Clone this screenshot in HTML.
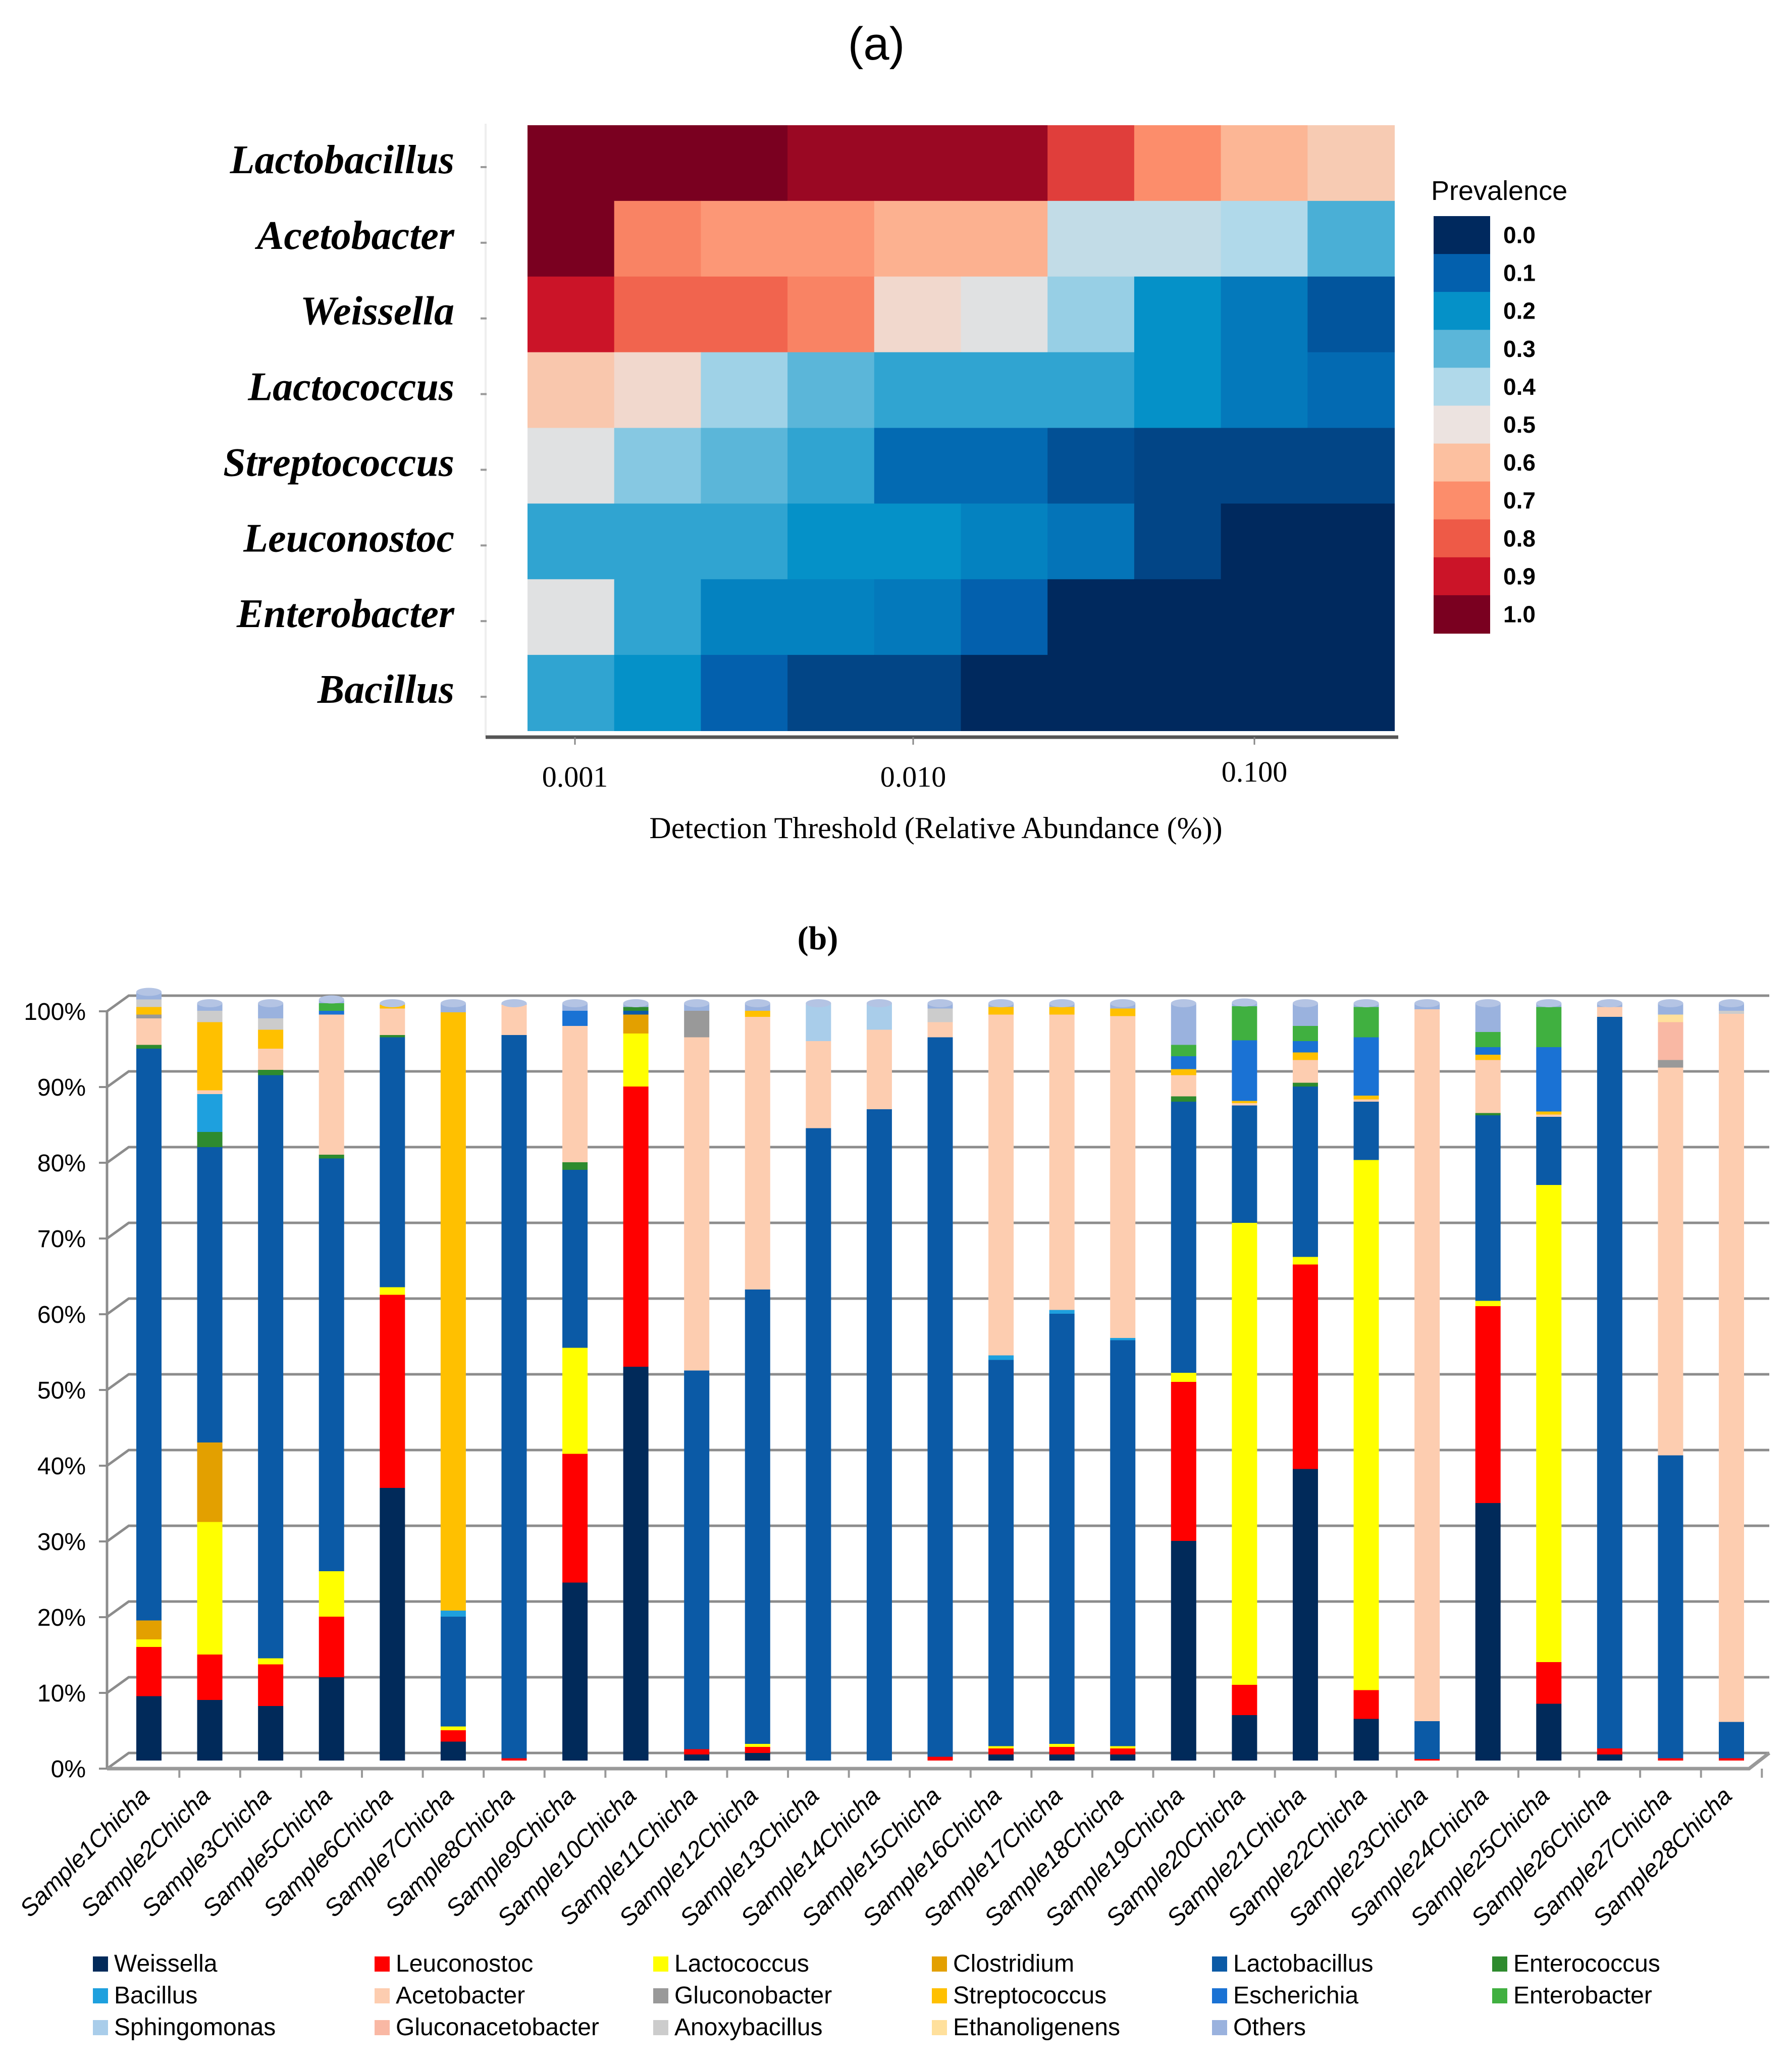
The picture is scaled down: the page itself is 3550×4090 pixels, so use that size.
<!DOCTYPE html>
<html><head><meta charset="utf-8"><style>
html,body{margin:0;padding:0;background:#fff;}
svg{display:block;}
</style></head><body>
<svg id="fig" width="3550" height="4090" viewBox="0 0 3550 4090" xmlns="http://www.w3.org/2000/svg">
<text x="1736" y="118" font-family="Liberation Sans, sans-serif" font-size="92" text-anchor="middle" fill="#000">(a)</text>
<g id="heat"></g>
<g id="bars"></g>
</svg>
<script>
// ===== Heatmap data =====
const genera = ["Lactobacillus","Acetobacter","Weissella","Lactococcus","Streptococcus","Leuconostoc","Enterobacter","Bacillus"];
const xTickLabels = ["0.001","0.010","0.100"];
const legendTicks = ["0.0","0.1","0.2","0.3","0.4","0.5","0.6","0.7","0.8","0.9","1.0"];
const prevLacto = [1,1,1,0.96,0.96,0.96,0.84,0.7,0.62,0.57];
const prevAceto = [1,0.72,0.68,0.68,0.63,0.63,0.43,0.43,0.40,0.28];
const prevWeiss = [0.9,0.78,0.78,0.72,0.53,0.48,0.37,0.2,0.15,0.08];
const prevLactoc = [0.58,0.53,0.38,0.3,0.25,0.25,0.25,0.2,0.15,0.12];
const prevStrep = [0.48,0.35,0.3,0.25,0.12,0.12,0.07,0.05,0.05,0.05];
const prevLeuco = [0.25,0.25,0.25,0.2,0.2,0.17,0.14,0.05,0,0];
const prevEntero = [0.48,0.25,0.17,0.17,0.15,0.1,0,0,0,0];
const prevBacil = [0.25,0.2,0.1,0.05,0.05,0,0,0,0,0];
const heatRows = [prevLacto,prevAceto,prevWeiss,prevLactoc,prevStrep,prevLeuco,prevEntero,prevBacil];

// ===== Bar chart data (percent, stacked bottom->top) =====
const samples = ["Sample1Chicha","Sample2Chicha","Sample3Chicha","Sample5Chicha","Sample6Chicha","Sample7Chicha","Sample8Chicha","Sample9Chicha","Sample10Chicha","Sample11Chicha","Sample12Chicha","Sample13Chicha","Sample14Chicha","Sample15Chicha","Sample16Chicha","Sample17Chicha","Sample18Chicha","Sample19Chicha","Sample20Chicha","Sample21Chicha","Sample22Chicha","Sample23Chicha","Sample24Chicha","Sample25Chicha","Sample26Chicha","Sample27Chicha","Sample28Chicha"];
const taxa = ["Weissella","Leuconostoc","Lactococcus","Clostridium","Lactobacillus","Enterococcus","Bacillus","Acetobacter","Gluconobacter","Streptococcus","Escherichia","Enterobacter","Sphingomonas","Gluconacetobacter","Anoxybacillus","Ethanoligenens","Others"];
const yTickLabels = ["0%","10%","20%","30%","40%","50%","60%","70%","80%","90%","100%"];
const weissella =     [8.5,8,7.2,11,36,2.5,0,23.5,52,0.8,1,0,0,0,0.8,0.8,0.8,29,6,38.5,5.5,0,34,7.5,0.8,0,0];
const leuconostoc =   [6.5,6,5.5,8,25.5,1.5,0.3,17,37,0.7,0.8,0,0,0.5,0.8,1,0.8,21,4,27,3.8,0.2,26,5.5,0.8,0.3,0.3];
const lactococcus =   [1,17.5,0.8,6,1,0.5,0,14,7,0,0.4,0,0,0,0.3,0.4,0.3,1.2,61,1,70,0,0.7,63,0,0,0];
const clostridium =   [2.5,10.5,0,0,0,0,0,0,2.5,0,0,0,0,0,0,0,0,0,0,0,0,0,0,0,0,0,0];
const lactobacillus = [75.5,39,77,54.5,33,14.5,95.5,23.5,0.5,50,60,83.5,86,95,51,56.8,53.6,35.8,15.5,22.5,7.7,5,24.5,9,96.6,40,4.8];
const enterococcus =  [0.5,2,0.7,0.5,0.3,0,0,1,0.5,0,0,0,0,0,0,0,0,0.7,0,0.5,0,0,0.3,0,0,0,0];
const bacillus =      [0,5,0,0,0,0.8,0,0,0,0,0,0,0,0,0.6,0.5,0.3,0,0,0,0,0,0,0,0,0,0];
const acetobacter =   [3.5,0.5,2.8,18.5,3.5,0,4,18,0,44,36,11.5,10.5,2,45,39,42.5,2.8,0.3,3,0.3,94,7,0.3,1.3,51.2,93.5];
const gluconobacter = [0.5,0,0,0,0,0,0,0,0,3.5,0,0,0,0,0,0,0,0,0,0,0,0,0,0,0,1,0];
const streptococcus = [1,9,2.5,0,0.5,79,0,0,0,0,0.8,0,0,0,1,1,1,0.8,0.3,1,0.5,0,0.7,0.4,0,0,0];
const escherichia =   [0,0,0,0.5,0,0,0,2,0,0,0,0,0,0,0,0,0,1.7,8,1.5,7.7,0,1,8.5,0,0,0];
const enterobacter =  [0,0,0,1,0,0,0,0,0,0,0,0,0,0,0,0,0,1.5,4.5,2,4,0,2,5.3,0,0,0];
const sphingomonas =  [0,0,0,0,0,0,0,0,0,0,0,5,3.5,0,0,0,0,0,0,0,0,0,0,0,0,0,0];
const gluconacetobacter=[0,0,0,0,0,0,0,0,0,0,0,0,0,0,0,0,0,0,0,0,0,0,0,0,0,5,0];
const anoxybacillus = [1,1.5,1.5,0,0,0,0,0,0,0,0,0,0,1.8,0,0,0,0,0,0,0,0,0,0,0,0,0.4];
const ethanoligenens =[0,0,0,0,0,0,0,0,0,0,0,0,0,0,0,0,0,0,0,0,0,0,0,0,0,1,0];
const others =        [1,1,2,0.5,0.2,1.2,0.2,1,0.5,1,1,0,0,0.7,0.5,0.5,0.7,5.5,0.5,3,0.5,0.8,3.8,0.5,0.5,1.5,1];
const seriesValues = [weissella,leuconostoc,lactococcus,clostridium,lactobacillus,enterococcus,bacillus,acetobacter,gluconobacter,streptococcus,escherichia,enterobacter,sphingomonas,gluconacetobacter,anoxybacillus,ethanoligenens,others];

const NS="http://www.w3.org/2000/svg";
function mk(tag,attrs,parent){const e=document.createElementNS(NS,tag);for(const k in attrs)e.setAttribute(k,attrs[k]);parent.appendChild(e);return e;}

// ---- heatmap ----
const stops=["#00295e","#0360ad","#0591c8","#5bb6d9","#b0d9ea","#ece3e0","#fcc0a0","#fc8d6b","#ee5a47","#cb1428","#7a0020"];
function hx(c){return [1,3,5].map(i=>parseInt(c.substr(i,2),16));}
function colorFor(v){const t=Math.max(0,Math.min(1,v))*10;const i=Math.min(9,Math.floor(t));const f=t-i;const a=hx(stops[i]),b=hx(stops[i+1]);return "rgb("+a.map((x,k)=>Math.round(x+(b[k]-x)*f)).join(",")+")";}
const heat=document.getElementById('heat');
const hx0=1045,hx1=2762,hy0=248,hy1=1447;
const cw=(hx1-hx0)/10, ch=(hy1-hy0)/8;
function hX(j){return hx0+j*cw;}
function hY(i){return hy0+i*ch;}
let l=mk('line',{x1:962,y1:245,x2:962,y2:1460,stroke:"#eee","stroke-width":4},heat);


heatRows.forEach((row,i)=>{
  row.forEach((v,j)=>{
    const r=mk('rect',{x:hX(j),y:hY(i),width:cw+1,height:ch+1,fill:colorFor(v)},heat);
    
    
  });
  const t=mk('text',{x:900,y:hY(i)+ch/2+20,"text-anchor":"end","font-family":"Liberation Serif, serif","font-size":80,"font-style":"italic","font-weight":"bold",fill:"#000"},heat);
  t.textContent=genera[i];
  
  
  const tk=mk('line',{x1:952,y1:hY(i)+ch/2+8,x2:964,y2:hY(i)+ch/2+8,stroke:"#999","stroke-width":4},heat);
  
  
});
l=mk('line',{x1:962,y1:1460,x2:2770,y2:1460,stroke:"#555","stroke-width":7},heat);


const xtPos=[1139,1809,2485];
xTickLabels.forEach((s,k)=>{
  const t=mk('text',{x:xtPos[k],y:1558-(k==2?10:0),"text-anchor":"middle","font-family":"Liberation Serif, serif","font-size":58,fill:"#000"},heat);
  t.textContent=s;
  
  
  const tk=mk('line',{x1:xtPos[k],y1:1460,x2:xtPos[k],y2:1475,stroke:"#888","stroke-width":3},heat);
  
  
});
let t=mk('text',{x:1854,y:1660,"text-anchor":"middle","font-family":"Liberation Serif, serif","font-size":60,fill:"#000"},heat);
t.textContent="Detection Threshold (Relative Abundance (%))";


t=mk('text',{x:2835,y:396,"font-family":"Liberation Sans, sans-serif","font-size":54,fill:"#000"},heat);
t.textContent="Prevalence";


const cby0=428, cbh=(1254-428)/11;
legendTicks.forEach((s,k)=>{
  const r=mk('rect',{x:2840,y:cby0+k*cbh,width:112,height:cbh+1,fill:colorFor(parseFloat(s))},heat);
  
  
  const tt=mk('text',{x:2978,y:cby0+k*cbh+cbh/2+16,"font-family":"Liberation Sans, sans-serif","font-size":46,"font-weight":"bold",fill:"#000"},heat);
  tt.textContent=s;
  
  
});

// ---- stacked bar chart ----
const colors=["#012a5a","#ff0000","#ffff00","#e3a000","#0b5aa6","#2e8b2e","#1ea0de","#fdcdb0","#999999","#ffc000","#1a72d4","#40b040","#a9cdea","#f9b8a4","#cccccc","#ffe09c","#9ab2de"];
const bars=document.getElementById('bars');
t=mk('text',{x:1620,y:1880,"text-anchor":"middle","font-family":"Liberation Serif, serif","font-size":66,"font-weight":"bold",fill:"#000"},bars);
t.textContent="(b)";


const py0=3503, py100=2003, dxw=43, dyw=-31;
function yScale(v){return py0+(py100-py0)*v/100;}
const bx0=295, bstep=(3430-295)/26;
function xScale(i){return bx0+i*bstep;}
yTickLabels.forEach((s,k)=>{
  const y=yScale(k*10);
  const g=mk('polyline',{points:`212,${y} ${212+dxw},${y+dyw} 3505,${y+dyw}`,fill:"none",stroke:"#8c8c8c","stroke-width":5},bars);
  
  
  const tk=mk('line',{x1:196,y1:y,x2:212,y2:y,stroke:"#8c8c8c","stroke-width":4},bars);
  
  
  const tt=mk('text',{x:170,y:y+17,"text-anchor":"end","font-family":"Liberation Sans, sans-serif","font-size":48,fill:"#000"},bars);
  tt.textContent=s;
  
  
});
l=mk('line',{x1:212,y1:yScale(100),x2:212,y2:py0,stroke:"#8c8c8c","stroke-width":5},bars);


l=mk('polyline',{points:`212,${py0} 3465,${py0} 3505,${py0+dyw}`,fill:"none",stroke:"#999","stroke-width":7},bars);


const bw=50;
samples.forEach((name,i)=>{
  const cx=xScale(i);
  let cum=0;
  const sh=-16;
  seriesValues.forEach((arr,s)=>{
    const v=arr[i]; if(!v) return;
    const yt=yScale(cum+v)+sh, yb=yScale(cum)+sh;
    const r=mk('rect',{x:cx-bw/2,y:yt,width:bw,height:Math.max(1,yb-yt),fill:colors[s]},bars);
    
    
    cum+=v;
  });
  const e=mk('ellipse',{cx:cx,cy:yScale(cum)-16,rx:bw/2,ry:8,fill:"#b4c4e4"},bars);
  
  
  const tk=mk('line',{x1:cx+bstep/2,y1:py0,x2:cx+bstep/2,y2:py0+18,stroke:"#999","stroke-width":4},bars);
  
  
  const tt=mk('text',{x:cx+4,y:3560,"text-anchor":"end","font-family":"Liberation Sans, sans-serif","font-size":48,"font-style":"italic",fill:"#000",transform:`rotate(-45 ${cx+4} 3560)`},bars);
  tt.textContent=name;
  
  
});
const legX=[184,742,1294,1846,2401,2956], legY=[3905,3968,4031];
taxa.forEach((name,k)=>{
  const col=k%6, row=Math.floor(k/6);
  const x=legX[col], y=legY[row];
  const r=mk('rect',{x:x,y:y-30,width:30,height:30,fill:colors[k]},bars);
  
  
  const tt=mk('text',{x:x+42,y:y,"font-family":"Liberation Sans, sans-serif","font-size":48,fill:"#000"},bars);
  tt.textContent=name;
  
  
});
</script>
</body></html>
